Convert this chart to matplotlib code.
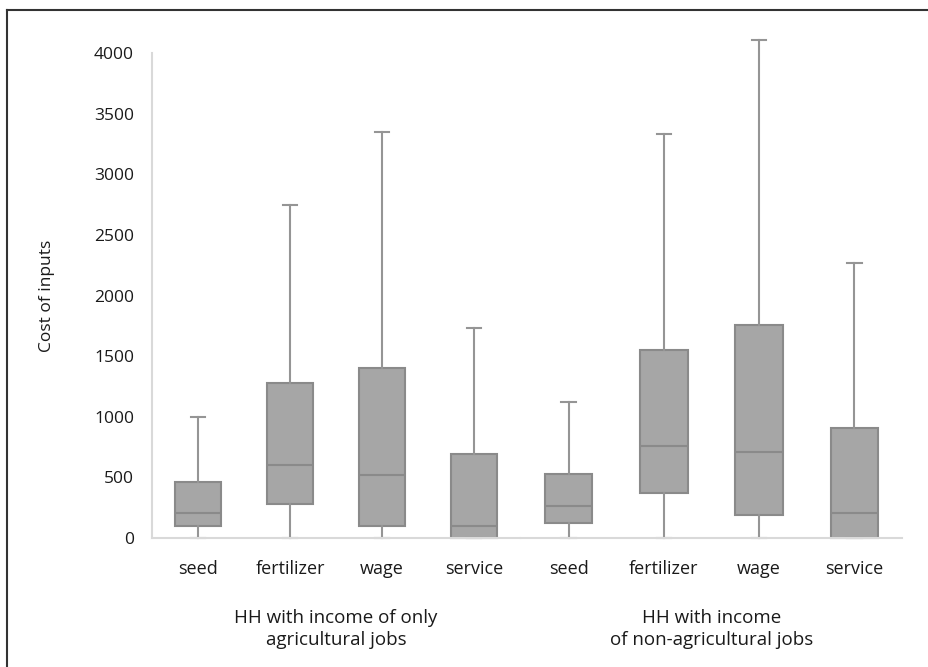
import matplotlib.pyplot as plt
from matplotlib.lines import Line2D

plt.rcParams['font.family'] = ['Open Sans', 'DejaVu Sans']

categories = ['seed', 'fertilizer', 'wage', 'service']
groups = ['HH with income of only\nagricultural jobs',
          'HH with income\nof non-agricultural jobs']

# box stats per group: whisker low, q1, median, q3, whisker high
agri_low = [0, 0, 0, 0]
agri_q1 = [100, 280, 100, 0]
agri_med = [205, 600, 520, 100]
agri_q3 = [460, 1275, 1400, 690]
agri_high = [1000, 2750, 3350, 1735]

nonagri_low = [0, 0, 0, 0]
nonagri_q1 = [125, 370, 190, 0]
nonagri_med = [260, 760, 710, 210]
nonagri_q3 = [530, 1550, 1760, 910]
nonagri_high = [1120, 3330, 4110, 2270]

data = [(agri_low, agri_q1, agri_med, agri_q3, agri_high),
        (nonagri_low, nonagri_q1, nonagri_med, nonagri_q3, nonagri_high)]

W, H = 929, 667
fig = plt.figure(figsize=(W / 100, H / 100), dpi=100)

# panel extents in pixels
panels = [(152, 520), (521, 902)]
y0, y1 = 538, 53

for i, (x0, x1) in enumerate(panels):
    ax = fig.add_axes([x0 / W, 1 - y0 / H, (x1 - x0) / W, (y0 - y1) / H])
    lo, q1, med, q3, hi = data[i]
    stats = []
    for j, c in enumerate(categories):
        stats.append(dict(label=c, whislo=lo[j], q1=q1[j], med=med[j],
                          q3=q3[j], whishi=hi[j], fliers=[]))
    parts = ax.bxp(stats, positions=range(1, 5), widths=0.5, patch_artist=True,
                   showfliers=False,
                   boxprops=dict(facecolor='#a6a6a6', edgecolor='#8a8a8a', linewidth=1.5),
                   medianprops=dict(color='#8a8a8a', linewidth=1.5),
                   whiskerprops=dict(color='#959595', linewidth=1.5),
                   capprops=dict(color='#959595', linewidth=1.5),
                   capwidths=0.15)
    for key in ['whiskers', 'caps', 'boxes', 'medians']:
        for a in parts[key]:
            a.set_clip_on(False)
    ax.set_xlim(0.5, 4.5)
    ax.set_ylim(0, 4000)
    for s in ['top', 'right']:
        ax.spines[s].set_visible(False)
    ax.spines['bottom'].set_color('#d9d9d9')
    ax.spines['bottom'].set_linewidth(1.5)
    ax.spines['left'].set_color('#d9d9d9')
    ax.spines['left'].set_linewidth(1.5)
    ax.tick_params(axis='both', length=0, labelsize=12.5, colors='#1a1a1a')
    ax.tick_params(axis='x', labelsize=13, pad=16)
    ax.set_xticks(range(1, 5))
    ax.set_xticklabels(categories)
    if i == 0:
        ax.set_yticks(range(0, 4001, 500))
        ax.tick_params(axis='y', pad=13)
        ax.set_ylabel('Cost of inputs', fontsize=12.5, color='#1a1a1a', labelpad=28)
    else:
        ax.spines['left'].set_visible(False)
        ax.set_yticks([])
    ax.text(2.5, -0.146, groups[i], transform=ax.get_xaxis_transform(),
            ha='center', va='top', fontsize=13.5, color='#1a1a1a', linespacing=1.3)

# frame lines at left and top of the figure
fig.add_artist(Line2D([7 / W, 7 / W], [0, 1 - 10 / H], transform=fig.transFigure,
                      color='#333333', linewidth=1.5))
fig.add_artist(Line2D([7 / W, 1], [1 - 10 / H, 1 - 10 / H], transform=fig.transFigure,
                      color='#333333', linewidth=1.5))

fig.savefig('out.png', dpi=100)
